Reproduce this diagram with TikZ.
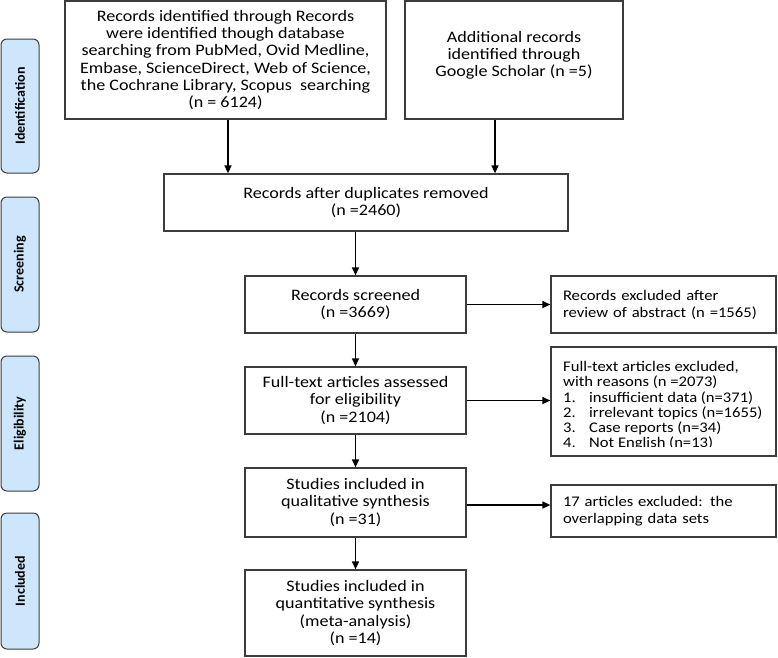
\documentclass[tikz,border=0pt]{standalone}
\usepackage{fontspec}
\setmainfont[FakeStretch=1.13]{Carlito}
\newfontfamily\sidefont{Carlito}
\usetikzlibrary{arrows.meta}
\definecolor{sideblue}{RGB}{205,230,252}
\definecolor{boxline}{RGB}{60,60,60}
\begin{document}
\begin{tikzpicture}[x=1pt,y=-1pt,
  box/.style={draw=boxline, line width=1.3pt, inner xsep=6pt, inner ysep=0pt,
    align=center, font=\fontsize{16}{17.2}\selectfont},
  lbox/.style={draw=boxline, line width=1.3pt, inner xsep=12pt, inner ysep=0pt,
    align=left, font=\fontsize{14.7}{17}\selectfont},
  phase/.style={draw=boxline, line width=1pt, fill=sideblue, rounded corners=6pt,
    rotate=90, inner sep=0pt, minimum height=38pt,
    font=\sidefont\bfseries\fontsize{14}{16}\selectfont},
  arr/.style={-{Triangle[length=8pt,width=7pt]}, line width=1.3pt, black}]
\useasboundingbox (0,0) rectangle (778,657);

% phase labels
\node[phase, minimum width=134pt] (pid) at (20,106) {Identification};
\node[phase, minimum width=135pt] (psc) at (20,264.5) {Screening};
\node[phase, minimum width=135pt] (pel) at (20,423.5) {Eligibility};
\node[phase, minimum width=136pt] (pin) at (20,581) {Included};

% boxes
\node[box, minimum width=321pt, minimum height=118pt] (a) at (225.5,60)
 {Records identified through Records\\were identified though database\\searching from PubMed, Ovid Medline,\\Embase, ScienceDirect, Web of Science,\\the Cochrane Library, Scopus\ \ searching\\(n = 6124)};
\node[box, minimum width=218pt, minimum height=118pt] (b) at (514,60)
 {Additional records\\identified through\\Google Scholar (n =5)\\[-5pt]};
\node[box, minimum width=404pt, minimum height=57pt] (c) at (366,202.5)
 {Records after duplicates removed\\(n =2460)};
\node[box, minimum width=221pt, minimum height=57pt] (d) at (355.5,304.5)
 {Records screened\\(n =3669)};
\node[lbox, text width=201pt, minimum height=57pt] (e) at (663.5,304.5)
 {\mbox{Records excluded after}\\\mbox{review of abstract (n =1565)}};
\node[box, minimum width=221pt, minimum height=67pt] (f) at (355.5,400.5)
 {Full-text articles assessed\\for eligibility\\(n =2104)};
\node[draw=boxline, line width=1.3pt, minimum width=225pt, minimum height=109pt] (g) at (663.5,401.5) {};
\begin{scope}
\clip ([xshift=1pt,yshift=-1pt]g.north west) rectangle ([xshift=-1pt,yshift=10pt]g.south east);
\node[align=left, inner sep=0pt, anchor=north west, font=\fontsize{14.7}{15.3}\selectfont] (gt) at (563,361)
 {\mbox{Full-text articles excluded,}\\\mbox{with reasons (n =2073)}\\
  \makebox[26pt][l]{1.}\mbox{insufficient data (n=371)}\\
  \makebox[26pt][l]{2.}\mbox{irrelevant topics (n=1655)}\\
  \makebox[26pt][l]{3.}\mbox{Case reports (n=34)}\\
  \makebox[26pt][l]{4.}\mbox{Not English (n=13)}};
\end{scope}
\node[box, minimum width=221pt, minimum height=69pt] (h) at (355.5,502.5)
 {Studies included in\\qualitative synthesis\\(n =31)};
\node[lbox, text width=201pt, minimum height=52pt] (i) at (663.5,511)
 {\mbox{17 articles excluded: the}\\\mbox{overlapping data sets}};
\node[box, minimum width=221pt, minimum height=86pt] (j) at (355.5,613)
 {Studies included in\\quantitative synthesis\\(meta-analysis)\\(n =14)};

% connectors
\draw[arr] ([xshift=2.5pt]a.south) -- ([xshift=2.5pt]a.south |- c.north);
\draw[arr] ([xshift=-19pt]b.south) -- ([xshift=-19pt]b.south |- c.north);
\draw[arr] (c.south -| d.north) -- (d.north);
\draw[arr] (d.east) -- (e.west);
\draw[arr] (d.south) -- (f.north);
\draw[arr] (f.east) -- (f.east -| g.west);
\draw[arr] (f.south) -- (h.north);
\draw[arr] ([yshift=-2.5pt]h.east) -- ([yshift=-2.5pt]h.east -| i.west);
\draw[arr] (h.south) -- (j.north);
\end{tikzpicture}
\end{document}
